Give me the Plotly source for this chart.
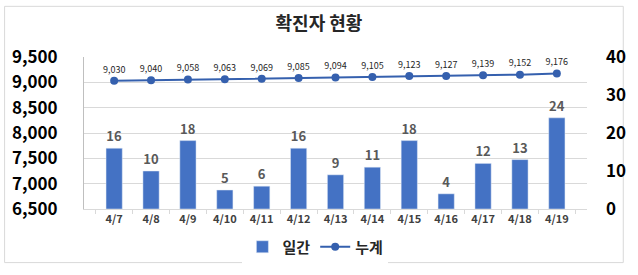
import plotly.graph_objects as go

dates = ["4/7", "4/8", "4/9", "4/10", "4/11", "4/12", "4/13", "4/14", "4/15", "4/16", "4/17", "4/18", "4/19"]
daily = [16, 10, 18, 5, 6, 16, 9, 11, 18, 4, 12, 13, 24]
cumulative = [9030, 9040, 9058, 9063, 9069, 9085, 9094, 9105, 9123, 9127, 9139, 9152, 9176]
left_ticks = [6500, 7000, 7500, 8000, 8500, 9000, 9500]
right_ticks = [0, 10, 20, 30, 40]

FONT = "Noto Sans CJK KR"
W, H = 638, 275
L, R, T, B = 82, 595, 57, 213

def px(x):
    return (x - L) / (R - L)

def py(y):
    return (B - y) / (B - T)

fig = go.Figure()
fig.add_trace(go.Bar(
    x=dates, y=daily, name="<b>일간</b>", yaxis="y2",
    marker=dict(color="#4472C4"),
    text=[f"<b>{v}</b>" for v in daily], textposition="outside",
    textfont=dict(family=FONT, size=13, color="#595959"),
    cliponaxis=False,
))
fig.add_trace(go.Scatter(
    x=dates, y=cumulative, name="<b>누계</b>", mode="lines+markers+text",
    line=dict(color="#3560AE", width=2),
    marker=dict(color="#3560AE", size=8),
    text=[f"{v:,}" for v in cumulative], textposition="top center",
    textfont=dict(family=FONT, size=9, color="#262626"),
    cliponaxis=False,
))

fig.update_layout(
    width=W, height=H,
    margin=dict(l=L, r=W - R, t=T, b=H - B),
    paper_bgcolor="white", plot_bgcolor="white",
    font=dict(family=FONT),
    title=dict(text="<b>확진자 현황</b>", x=0.5, xanchor="center", y=1 - 24 / H, yanchor="middle",
               font=dict(family=FONT, size=18, color="#262626")),
    bargap=0.56,
    showlegend=True,
    legend=dict(orientation="h", x=px(318), xanchor="center", y=py(252), yanchor="middle",
                font=dict(family=FONT, size=15, color="#262626"), itemwidth=30,
                traceorder="normal"),
    xaxis=dict(type="category", showgrid=False, showline=True, linecolor="#D9D9D9",
               ticks="outside", ticklen=4, tickcolor="#D9D9D9",
               tickvals=dates, ticktext=[f"<b>{d}</b>" for d in dates],
               tickfont=dict(family=FONT, size=11, color="#404040"), tickson="boundaries"),
    yaxis=dict(range=[6500, 9500], tickvals=left_ticks, ticktext=[f"<b>{v:,}</b>" for v in left_ticks],
               showgrid=True, gridcolor="#D9D9D9", showline=True, linecolor="#BFBFBF",
               zeroline=False, ticks="", ticklabelstandoff=22,
               tickfont=dict(family=FONT, size=17, color="#000000")),
    yaxis2=dict(range=[0, 40], tickvals=right_ticks, ticktext=[f"<b>{v}</b>" for v in right_ticks],
                overlaying="y", side="right",
                showgrid=False, zeroline=False, showline=False, ticklabelstandoff=18,
                tickfont=dict(family=FONT, size=17, color="#000000")),
    shapes=[dict(type="rect", xref="paper", yref="paper",
                 x0=px(1), x1=px(632), y0=py(268), y1=py(5),
                 line=dict(color="#D9D9D9", width=1), layer="below")],
)

fig.write_html("out.html")
